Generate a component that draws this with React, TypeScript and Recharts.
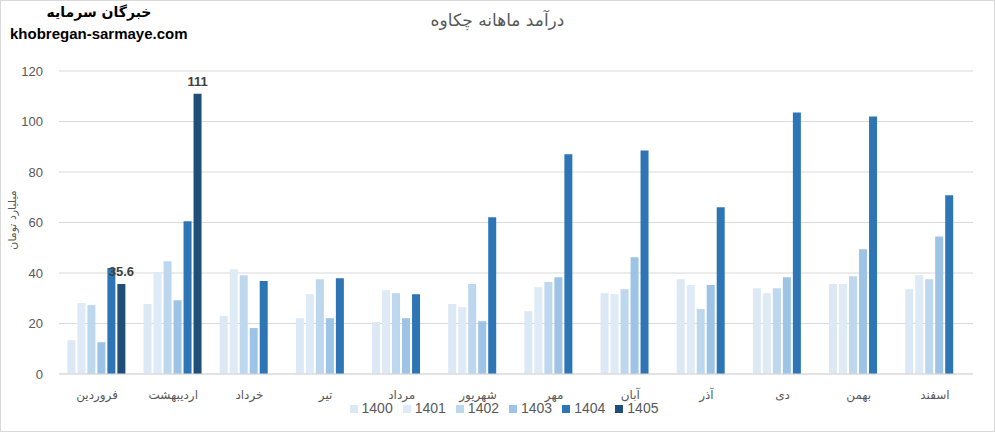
import { BarChart, Bar, XAxis, YAxis, CartesianGrid, Legend, LabelList } from 'recharts';

const months = ['فروردین', 'اردیبهشت', 'خرداد', 'تیر', 'مرداد', 'شهریور', 'مهر', 'آبان', 'آذر', 'دی', 'بهمن', 'اسفند'];

const y1400 = [13.4, 27.7, 23.0, 22.1, 20.6, 27.7, 24.9, 32.0, 37.5, 34.0, 35.6, 33.6];
const y1401 = [28.1, 40.3, 41.5, 31.6, 33.2, 26.5, 34.4, 31.6, 35.2, 32.0, 35.6, 39.1];
const y1402 = [27.3, 44.7, 39.1, 37.5, 32.0, 35.6, 36.4, 33.6, 25.7, 34.0, 38.7, 37.5];
const y1403 = [12.6, 29.2, 18.2, 22.1, 22.1, 20.9, 38.3, 46.2, 35.2, 38.3, 49.4, 54.5];
const y1404 = [42.0, 60.5, 36.8, 37.9, 31.6, 62.1, 87.0, 88.5, 66.0, 103.6, 102.0, 70.8];
const y1405 = [35.6, 111, null, null, null, null, null, null, null, null, null, null];

const yTicks = [0, 20, 40, 60, 80, 100, 120];

const seriesKeys = ['1400', '1401', '1402', '1403', '1404', '1405'];
const colors = ['#dde8f5', '#deeaf6', '#bdd7ee', '#9dc3e6', '#2e75b6', '#1f4e79'];

const data = months.map((m, i) => ({
  name: m,
  '1400': y1400[i],
  '1401': y1401[i],
  '1402': y1402[i],
  '1403': y1403[i],
  '1404': y1404[i],
  '1405': y1405[i],
}));

const font = '"Liberation Sans", "Noto Sans", sans-serif';

const App = () => {
  return (
    <div style={{ position: 'absolute', left: 0, top: 0, width: 995, height: 432, fontFamily: font, background: '#fff' }}>
      <div style={{ position: 'absolute', left: 0, top: 0, width: 993, height: 430, border: '1px solid #d9d9d9' }} />
      <div style={{ position: 'absolute', left: 0, top: 10, width: 995, textAlign: 'center', fontSize: 17, color: '#595959', fontFamily: '"DejaVu Sans", sans-serif' }}>
        درآمد ماهانه چکاوه
      </div>
      <div style={{ position: 'absolute', left: 9, top: 4, width: 180, textAlign: 'center', fontSize: 14, fontWeight: 'bold', color: '#000', fontFamily: '"DejaVu Sans", sans-serif' }}>
        خبرگان سرمایه
      </div>
      <div style={{ position: 'absolute', left: 10, top: 25, fontSize: 15, fontWeight: 'bold', color: '#000' }}>
        khobregan-sarmaye.com
      </div>
      <div style={{ position: 'absolute', left: 12, top: 220, transform: 'translate(-50%, -50%) rotate(-90deg)', fontSize: 11, color: '#595959', whiteSpace: 'nowrap', fontFamily: '"DejaVu Sans", sans-serif' }}>
        میلیارد تومان
      </div>
      <BarChart
        width={995}
        height={432}
        data={data}
        margin={{ top: 71, right: 22, left: 0, bottom: 6 }}
        barCategoryGap="11%"
        barGap={2}
        style={{ position: 'absolute', left: 0, top: 0 }}
      >
        <CartesianGrid vertical={false} stroke="#d9d9d9" />
        <XAxis
          dataKey="name"
          tickLine={false}
          axisLine={{ stroke: '#d9d9d9' }}
          tick={{ fill: '#595959', fontSize: 12, fontFamily: '"DejaVu Sans", sans-serif' }}
          height={26}
          tickMargin={10}
        />
        <YAxis
          domain={[0, 120]}
          ticks={yTicks}
          width={59}
          tickLine={false}
          axisLine={false}
          tick={{ fill: '#595959', fontSize: 13 }}
          tickMargin={10}
        />
        <Legend
          verticalAlign="bottom"
          iconType="square"
          iconSize={8}
          height={26}
          wrapperStyle={{ fontSize: 14, color: '#595959', left: 24, width: 970 }}
          formatter={(v) => <span style={{ color: '#595959' }}>{v}</span>}
        />
        {seriesKeys.map((k, i) => (
          <Bar key={k} dataKey={k} fill={colors[i]} isAnimationActive={false}>
            {k === '1405' && (
              <LabelList dataKey={k} position="top" fill="#404040" fontSize={13} fontWeight="bold" offset={8} />
            )}
          </Bar>
        ))}
      </BarChart>
    </div>
  );
};

export default App;
